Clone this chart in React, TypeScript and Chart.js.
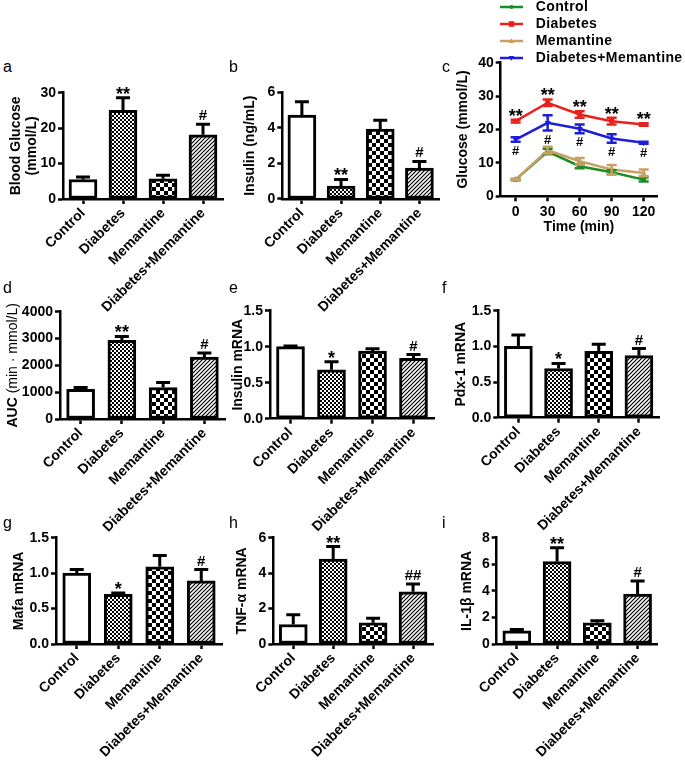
import React, { useEffect, useRef } from 'react';
import { Chart, registerables } from 'chart.js';
Chart.register(...registerables);

const FONT = "'Liberation Sans', Arial, Helvetica, sans-serif";
Chart.defaults.font.family = FONT;
Chart.defaults.color = '#000';

// ---------- data ----------
const groups = ['Control', 'Diabetes', 'Memantine', 'Diabetes+Memantine'];

const bloodGlucose = [5.5, 25, 5.7, 18.1];
const bloodGlucoseErr = [0.7, 3.6, 1.0, 3.0];
const bloodGlucoseSig = ['', '**', '', '#'];

const insulin = [4.72, 0.72, 3.93, 1.74];
const insulinErr = [0.75, 0.38, 0.5, 0.37];
const insulinSig = ['', '**', '', '#'];

const auc = [1110, 2930, 1170, 2310];
const aucErr = [60, 150, 190, 150];
const aucSig = ['', '**', '', '#'];

const insulinMrna = [1.0, 0.68, 0.94, 0.84];
const insulinMrnaErr = [0.01, 0.11, 0.03, 0.05];
const insulinMrnaSig = ['', '*', '', '#'];

const pdx1Mrna = [1.0, 0.69, 0.93, 0.87];
const pdx1MrnaErr = [0.16, 0.07, 0.1, 0.1];
const pdx1MrnaSig = ['', '*', '', '#'];

const mafaMrna = [1.0, 0.7, 1.09, 0.89];
const mafaMrnaErr = [0.05, 0.02, 0.16, 0.16];
const mafaMrnaSig = ['', '*', '', '#'];

const tnfMrna = [1.1, 4.8, 1.2, 2.95];
const tnfMrnaErr = [0.55, 0.7, 0.25, 0.43];
const tnfMrnaSig = ['', '**', '', '##'];

const il1bMrna = [1.0, 6.2, 1.6, 3.75];
const il1bMrnaErr = [0.1, 1.05, 0.15, 1.0];
const il1bMrnaSig = ['', '**', '', '#'];

const timePoints = [0, 30, 60, 90, 120];
const ogttControl = [5.0, 13.4, 9.0, 7.2, 5.0];
const ogttControlErr = [0.2, 0.8, 0.6, 0.6, 0.6];
const ogttDiabetes = [22.5, 28.0, 24.5, 22.5, 21.5];
const ogttDiabetesErr = [0.4, 1.0, 1.0, 1.0, 0.4];
const ogttDiabetesSig = ['**', '**', '**', '**', '**'];
const ogttMemantine = [5.0, 13.8, 10.5, 8.0, 7.0];
const ogttMemantineErr = [0.2, 1.0, 1.0, 1.4, 1.0];
const ogttCombo = [17.0, 22.0, 20.2, 17.3, 16.0];
const ogttComboErr = [0.7, 2.3, 1.3, 1.3, 0.3];
const ogttComboSig = ['#', '#', '#', '#', '#'];

const seriesNames = ['Control', 'Diabetes', 'Memantine', 'Diabetes+Memantine'];
const seriesColors = ['#1f8c22', '#e8211d', '#c9a064', '#1d1ed8'];

// ---------- fills ----------
function makeFills(): (string | CanvasPattern)[] {
  const mk = (size: number, draw: (c: CanvasRenderingContext2D) => void) => {
    const cv = document.createElement('canvas');
    cv.width = size; cv.height = size;
    const c = cv.getContext('2d')!;
    c.fillStyle = '#fff'; c.fillRect(0, 0, size, size);
    draw(c);
    return c.createPattern(cv, 'repeat')!;
  };
  const fine = mk(4, (c) => { c.fillStyle = '#000'; c.fillRect(0, 0, 2, 2); c.fillRect(2, 2, 2, 2); });
  const coarse = mk(8, (c) => { c.fillStyle = '#000'; c.fillRect(0, 0, 4, 4); c.fillRect(4, 4, 4, 4); });
  const hatch = mk(4, (c) => {
    c.strokeStyle = '#000'; c.lineWidth = 1.2;
    c.beginPath();
    c.moveTo(-1, 5); c.lineTo(5, -1);
    c.moveTo(-1, 1); c.lineTo(1, -1);
    c.moveTo(3, 5); c.lineTo(5, 3);
    c.stroke();
  });
  return ['#ffffff', fine, coarse, hatch];
}

function drawSig(ctx: CanvasRenderingContext2D, text: string, x: number, yEdge: number, above: boolean, hashSize = 15) {
  if (!text) return;
  ctx.save();
  ctx.fillStyle = '#000';
  ctx.textAlign = 'center';
  ctx.textBaseline = 'alphabetic';
  if (text.includes('*')) {
    ctx.font = `bold 18px ${FONT}`;
    ctx.fillText(text, x, above ? yEdge + 3 : yEdge + 17);
  } else {
    ctx.font = `bold ${hashSize}px ${FONT}`;
    ctx.fillText(text, x, above ? yEdge - 3 : yEdge + 13);
  }
  ctx.restore();
}

// ---------- bar panel ----------
type Area = { left: number; top: number; right: number; bottom: number };
type TitlePart = { text: string; weight: string };
type BarCfg = {
  values: number[]; errs: number[]; sig: string[];
  yMax: number; yStep: number; decimals: number;
  title: string | string[] | TitlePart[]; titleWeight: string; titleCenter: number; titleLH: number;
  canvasLeft: number; canvasTop: number; canvasW: number; area: Area;
};

const X_LABEL_H = 118;
const tickFont = { family: FONT, size: 14, weight: 'bold' as const };

function BarPanel({ cfg }: { cfg: BarCfg }) {
  const ref = useRef<HTMLCanvasElement>(null);
  const H = Math.round(cfg.area.bottom - cfg.canvasTop + X_LABEL_H);
  useEffect(() => {
    const fills = makeFills();
    const yW = cfg.area.left - cfg.canvasLeft;
    const xH = H - (cfg.area.bottom - cfg.canvasTop);
    const lhPx = 14 * cfg.titleLH;
    const titlePad = cfg.titleCenter - cfg.canvasLeft - lhPx / 2;
    const mixed = Array.isArray(cfg.title) && typeof (cfg.title as any[])[0] === 'object';
    const errPlugin = {
      id: 'errbars',
      afterDatasetsDraw(chart: any) {
        const ctx = chart.ctx as CanvasRenderingContext2D;
        const ys = chart.scales.y;
        const meta = chart.getDatasetMeta(0);
        meta.data.forEach((bar: any, i: number) => {
          const x = bar.x;
          const top = ys.getPixelForValue(cfg.values[i]);
          const et = ys.getPixelForValue(cfg.values[i] + cfg.errs[i]);
          ctx.save();
          ctx.strokeStyle = '#000';
          ctx.lineWidth = 3;
          ctx.beginPath();
          ctx.moveTo(x, top);
          ctx.lineTo(x, et);
          ctx.moveTo(x - 7, et);
          ctx.lineTo(x + 7, et);
          ctx.stroke();
          ctx.restore();
          drawSig(ctx, cfg.sig[i], x, et - 1, true);
        });
      },
      afterDraw(chart: any) {
        if (!mixed) return;
        const parts = cfg.title as TitlePart[];
        const ctx = chart.ctx as CanvasRenderingContext2D;
        const area = chart.chartArea;
        ctx.save();
        ctx.translate(cfg.titleCenter - cfg.canvasLeft, (area.top + area.bottom) / 2);
        ctx.rotate(-Math.PI / 2);
        ctx.textBaseline = 'middle';
        ctx.textAlign = 'left';
        ctx.fillStyle = '#000';
        let total = 0;
        parts.forEach((p) => { ctx.font = `${p.weight} 14px ${FONT}`; total += ctx.measureText(p.text).width; });
        let x = -total / 2;
        parts.forEach((p) => {
          ctx.font = `${p.weight} 14px ${FONT}`;
          ctx.fillText(p.text, x, 0);
          x += ctx.measureText(p.text).width;
        });
        ctx.restore();
      },
    };
    const chart = new Chart(ref.current!, {
      type: 'bar',
      data: {
        labels: groups,
        datasets: [{
          data: cfg.values,
          backgroundColor: fills as any,
          borderColor: '#000',
          borderWidth: 3,
          borderSkipped: false,
          barThickness: 28,
        }],
      },
      options: {
        animation: false,
        responsive: false,
        layout: { padding: { top: cfg.area.top - cfg.canvasTop, right: cfg.canvasLeft + cfg.canvasW - cfg.area.right, left: 0, bottom: 0 } },
        plugins: { legend: { display: false }, tooltip: { enabled: false } },
        scales: {
          x: {
            type: 'category',
            offset: true,
            grid: { offset: false, drawOnChartArea: false, drawTicks: true, tickLength: 5, tickWidth: 2.5, tickColor: '#000' },
            border: { display: true, color: '#000', width: 2.5 },
            ticks: { color: '#000', font: tickFont, minRotation: 45, maxRotation: 45, autoSkip: false, padding: 1 },
            afterFit: (s: any) => { s.height = xH; },
          },
          y: {
            min: 0,
            max: cfg.yMax,
            grid: { drawOnChartArea: false, drawTicks: true, tickLength: 5, tickWidth: 2.5, tickColor: '#000' },
            border: { display: true, color: '#000', width: 2.5 },
            ticks: { stepSize: cfg.yStep, color: '#000', font: tickFont, padding: 2, callback: (v: any) => Number(v).toFixed(cfg.decimals) },
            title: {
              display: !mixed,
              text: mixed ? '' : (cfg.title as any),
              color: '#000',
              font: { family: FONT, size: 14, weight: cfg.titleWeight as any, lineHeight: cfg.titleLH },
              padding: { top: titlePad, bottom: 0 },
            },
            afterFit: (s: any) => { s.width = yW; },
          },
        },
      },
      plugins: [errPlugin],
    });
    return () => chart.destroy();
  }, []);
  return (
    <canvas
      ref={ref}
      width={cfg.canvasW}
      height={H}
      style={{ position: 'absolute', left: cfg.canvasLeft, top: cfg.canvasTop, width: cfg.canvasW, height: H }}
    />
  );
}

// ---------- line panel ----------
function drawMarker(ctx: CanvasRenderingContext2D, style: string, x: number, y: number, r: number, color: string) {
  ctx.save();
  ctx.fillStyle = color;
  ctx.beginPath();
  if (style === 'circle') ctx.arc(x, y, r, 0, Math.PI * 2);
  else if (style === 'rect') ctx.rect(x - r, y - r, 2 * r, 2 * r);
  else if (style === 'up') { ctx.moveTo(x, y - r); ctx.lineTo(x + r, y + r * 0.7); ctx.lineTo(x - r, y + r * 0.7); ctx.closePath(); }
  else { ctx.moveTo(x, y + r); ctx.lineTo(x + r, y - r * 0.7); ctx.lineTo(x - r, y - r * 0.7); ctx.closePath(); }
  ctx.fill();
  ctx.restore();
}

function LinePanel() {
  const ref = useRef<HTMLCanvasElement>(null);
  const canvasLeft = 445, canvasTop = 0, W = 240, H = 240;
  const area: Area = { left: 500.7, top: 62.7, right: 657, bottom: 196.3 };
  useEffect(() => {
    const vals = [ogttControl, ogttDiabetes, ogttMemantine, ogttCombo];
    const errs = [ogttControlErr, ogttDiabetesErr, ogttMemantineErr, ogttComboErr];
    const legendStyles = ['circle', 'rect', 'up', 'down'];
    const datasets = vals.map((v, k) => ({
      label: seriesNames[k],
      data: v.map((y, i) => ({ x: timePoints[i], y })),
      borderColor: seriesColors[k],
      backgroundColor: seriesColors[k],
      borderWidth: 2.5,
      pointRadius: k === 0 ? 2.5 : 3.5,
      pointBorderWidth: 0,
      pointStyle: ['circle', 'rect', 'triangle', 'triangle'][k] as any,
      rotation: k === 3 ? 180 : 0,
      order: [3, 1, 2, 0][k],
    }));
    const errPlugin = {
      id: 'ogttErr',
      afterDatasetsDraw(chart: any) {
        const ctx = chart.ctx as CanvasRenderingContext2D;
        const xs = chart.scales.x, ys = chart.scales.y;
        vals.forEach((v, k) => {
          v.forEach((y, i) => {
            const x = xs.getPixelForValue(timePoints[i]);
            const y1 = ys.getPixelForValue(y + errs[k][i]);
            const y2 = ys.getPixelForValue(y - errs[k][i]);
            ctx.save();
            ctx.strokeStyle = seriesColors[k];
            ctx.lineWidth = 2.5;
            ctx.beginPath();
            ctx.moveTo(x, y1); ctx.lineTo(x, y2);
            ctx.moveTo(x - 5, y1); ctx.lineTo(x + 5, y1);
            ctx.moveTo(x - 5, y2); ctx.lineTo(x + 5, y2);
            ctx.stroke();
            ctx.restore();
          });
        });
        timePoints.forEach((t, i) => {
          const x = xs.getPixelForValue(t);
          drawSig(ctx, ogttDiabetesSig[i], x, ys.getPixelForValue(ogttDiabetes[i] + ogttDiabetesErr[i]) - 1, true);
          drawSig(ctx, ogttComboSig[i], x, ys.getPixelForValue(ogttCombo[i] - ogttComboErr[i]), false, 13);
        });
      },
      afterDraw(chart: any) {
        const ctx = chart.ctx as CanvasRenderingContext2D;
        const rows = [7, 24, 41, 58];
        seriesNames.forEach((name, k) => {
          const y = rows[k];
          ctx.save();
          ctx.strokeStyle = seriesColors[k];
          ctx.lineWidth = 2.5;
          ctx.beginPath();
          ctx.moveTo(500 - canvasLeft, y);
          ctx.lineTo(523 - canvasLeft, y);
          ctx.stroke();
          drawMarker(ctx, legendStyles[k], 511.5 - canvasLeft, y, k === 0 ? 2 : 2.8, seriesColors[k]);
          ctx.fillStyle = '#000';
          ctx.font = `bold 14px ${FONT}`;
          (ctx as any).letterSpacing = '0.4px';
          ctx.textAlign = 'left';
          ctx.textBaseline = 'middle';
          ctx.fillText(name, 535.7 - canvasLeft, y + 0.5);
          ctx.restore();
        });
      },
    };
    const chart = new Chart(ref.current!, {
      type: 'line',
      data: { datasets },
      options: {
        animation: false,
        responsive: false,
        layout: { padding: { top: area.top - canvasTop, right: canvasLeft + W - area.right, left: 0, bottom: 0 } },
        plugins: { legend: { display: false }, tooltip: { enabled: false } },
        scales: {
          x: {
            type: 'linear',
            min: -14,
            max: 132.5,
            afterBuildTicks: (s: any) => { s.ticks = timePoints.map((v) => ({ value: v })); },
            grid: { drawOnChartArea: false, drawTicks: true, tickLength: 5, tickWidth: 2.5, tickColor: '#000' },
            border: { display: true, color: '#000', width: 2.5 },
            ticks: { color: '#000', font: tickFont, padding: 2, maxRotation: 0, autoSkip: false },
            title: { display: true, text: 'Time (min)', color: '#000', font: { family: FONT, size: 14, weight: 'bold' }, padding: { top: 0, bottom: 4.6 } },
            afterFit: (s: any) => { s.height = H - area.bottom; },
          },
          y: {
            min: 0,
            max: 40,
            grid: { drawOnChartArea: false, drawTicks: true, tickLength: 5, tickWidth: 2.5, tickColor: '#000' },
            border: { display: true, color: '#000', width: 2.5 },
            ticks: { stepSize: 10, color: '#000', font: tickFont, padding: 2 },
            title: { display: true, text: 'Glucose (mmol/L)', color: '#000', font: { family: FONT, size: 14, weight: 'bold' }, padding: { top: 463 - canvasLeft - 8.4, bottom: 0 } },
            afterFit: (s: any) => { s.width = area.left - canvasLeft; },
          },
        },
      },
      plugins: [errPlugin],
    });
    return () => chart.destroy();
  }, []);
  return <canvas ref={ref} width={W} height={H} style={{ position: 'absolute', left: canvasLeft, top: canvasTop, width: W, height: H }} />;
}

// ---------- layout ----------
const panels: BarCfg[] = [
  { values: bloodGlucose, errs: bloodGlucoseErr, sig: bloodGlucoseSig, yMax: 30, yStep: 10, decimals: 0,
    title: ['Blood Glucose', '(mmol/L)'], titleWeight: 'bold', titleCenter: 16, titleLH: 16 / 14,
    canvasLeft: 0, canvasTop: 75, canvasW: 232, area: { left: 63, top: 92.7, right: 223, bottom: 199 } },
  { values: insulin, errs: insulinErr, sig: insulinSig, yMax: 6, yStep: 2, decimals: 0,
    title: 'Insulin (ng/mL)', titleWeight: 'bold', titleCenter: 250.5, titleLH: 1.2,
    canvasLeft: 232, canvasTop: 75, canvasW: 220, area: { left: 282.3, top: 92.3, right: 439, bottom: 199 } },
  { values: auc, errs: aucErr, sig: aucSig, yMax: 4000, yStep: 1000, decimals: 0,
    title: [{ text: 'AUC ', weight: 'bold' }, { text: '(min · mmol/L)', weight: 'normal' }], titleWeight: 'normal', titleCenter: 13, titleLH: 1.2,
    canvasLeft: 0, canvasTop: 290, canvasW: 232, area: { left: 60, top: 311.7, right: 225, bottom: 419 } },
  { values: insulinMrna, errs: insulinMrnaErr, sig: insulinMrnaSig, yMax: 1.5, yStep: 0.5, decimals: 1,
    title: 'Insulin mRNA', titleWeight: 'bold', titleCenter: 238, titleLH: 1.2,
    canvasLeft: 226, canvasTop: 290, canvasW: 226, area: { left: 270, top: 310.7, right: 434, bottom: 418.7 } },
  { values: pdx1Mrna, errs: pdx1MrnaErr, sig: pdx1MrnaSig, yMax: 1.5, yStep: 0.5, decimals: 1,
    title: 'Pdx-1 mRNA', titleWeight: 'bold', titleCenter: 461, titleLH: 1.2,
    canvasLeft: 450, canvasTop: 290, canvasW: 235, area: { left: 498.3, top: 310.7, right: 659, bottom: 417.7 } },
  { values: mafaMrna, errs: mafaMrnaErr, sig: mafaMrnaSig, yMax: 1.5, yStep: 0.5, decimals: 1,
    title: 'Mafa mRNA', titleWeight: 'bold', titleCenter: 19, titleLH: 1.2,
    canvasLeft: 0, canvasTop: 515, canvasW: 232, area: { left: 56, top: 537.7, right: 222, bottom: 644 } },
  { values: tnfMrna, errs: tnfMrnaErr, sig: tnfMrnaSig, yMax: 6, yStep: 2, decimals: 0,
    title: 'TNF-α mRNA', titleWeight: 'bold', titleCenter: 242, titleLH: 1.2,
    canvasLeft: 226, canvasTop: 515, canvasW: 226, area: { left: 273.3, top: 537.7, right: 433, bottom: 644 } },
  { values: il1bMrna, errs: il1bMrnaErr, sig: il1bMrnaSig, yMax: 8, yStep: 2, decimals: 0,
    title: 'IL-1β mRNA', titleWeight: 'bold', titleCenter: 467, titleLH: 1.2,
    canvasLeft: 450, canvasTop: 515, canvasW: 235, area: { left: 496.7, top: 537.7, right: 657.7, bottom: 644 } },
];

const panelLetters = ['a', 'b', 'c', 'd', 'e', 'f', 'g', 'h', 'i'];
const letterX = [3, 229, 442, 3, 229, 442, 3, 229, 442];
const letterBaseline = [72, 72, 72, 293, 293, 293, 528, 528, 528];

export default function App() {
  return (
    <div style={{ position: 'absolute', left: 0, top: 0, width: 685, height: 765, background: '#fff', overflow: 'hidden' }}>
      {panels.map((p, i) => <BarPanel key={i} cfg={p} />)}
      <LinePanel />
      {panelLetters.map((l, i) => (
        <div key={l} style={{ position: 'absolute', left: letterX[i], top: letterBaseline[i] - 13.5, font: `16px ${FONT}`, lineHeight: '16px', color: '#000' }}>{l}</div>
      ))}
    </div>
  );
}
